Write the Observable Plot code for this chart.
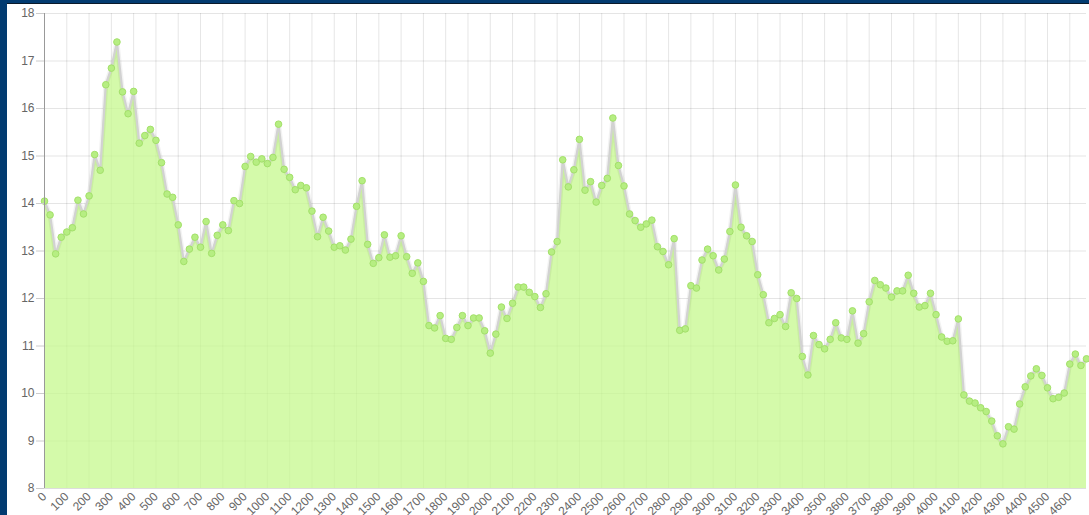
<!DOCTYPE html>
<html>
<head>
<meta charset="utf-8">
<script src="https://cdn.jsdelivr.net/npm/d3@7"></script>
<script src="https://cdn.jsdelivr.net/npm/@observablehq/plot@0.6"></script>
<style>
  html, body { margin: 0; padding: 0; background: #023b70; overflow: hidden; }
  #frame { position: absolute; left: 7px; top: 3px; width: 1082px; height: 560px; background: #fff; border-top: 1px solid #0a1a2a; box-sizing: border-box; }
  #chart { position: absolute; left: 0; top: -1px; }
</style>
</head>
<body>
<div id="frame"><div id="chart"></div></div>
<script>
// distance step between consecutive samples (x-axis units)
const step = 25;
// sampled values, one every 25 units from 0 to 4675
const values = [
  14.05, 13.76, 12.94, 13.29, 13.40, 13.49, 14.07, 13.78, 14.16, 15.03,
  14.70, 16.50, 16.85, 17.40, 16.35, 15.89, 16.36, 15.27, 15.43, 15.56,
  15.33, 14.86, 14.20, 14.13, 13.55, 12.78, 13.04, 13.29, 13.08, 13.62,
  12.95, 13.33, 13.55, 13.43, 14.06, 14.00, 14.78, 14.99, 14.87, 14.94,
  14.84, 14.97, 15.67, 14.72, 14.55, 14.29, 14.38, 14.33, 13.84, 13.30,
  13.71, 13.42, 13.08, 13.11, 13.02, 13.25, 13.94, 14.48, 13.14, 12.74,
  12.86, 13.34, 12.87, 12.90, 13.32, 12.88, 12.53, 12.75, 12.36, 11.43,
  11.38, 11.64, 11.16, 11.14, 11.39, 11.64, 11.43, 11.59, 11.59, 11.32,
  10.85, 11.25, 11.82, 11.58, 11.90, 12.24, 12.24, 12.13, 12.04, 11.81,
  12.10, 12.98, 13.20, 14.92, 14.35, 14.71, 15.35, 14.28, 14.46, 14.03,
  14.38, 14.53, 15.80, 14.80, 14.37, 13.78, 13.64, 13.50, 13.57, 13.65,
  13.09, 12.99, 12.71, 13.26, 11.33, 11.36, 12.27, 12.22, 12.81, 13.04,
  12.90, 12.60, 12.83, 13.41, 14.39, 13.50, 13.32, 13.20, 12.50, 12.08,
  11.49, 11.58, 11.66, 11.41, 12.12, 12.00, 10.78, 10.39, 11.22, 11.03,
  10.94, 11.14, 11.49, 11.17, 11.14, 11.74, 11.06, 11.26, 11.93, 12.38,
  12.29, 12.22, 12.03, 12.16, 12.16, 12.49, 12.11, 11.82, 11.85, 12.11,
  11.66, 11.19, 11.10, 11.11, 11.57, 9.97, 9.84, 9.80, 9.70, 9.62,
  9.42, 9.11, 8.94, 9.30, 9.25, 9.78, 10.14, 10.37, 10.52, 10.38,
  10.12, 9.89, 9.92, 10.01, 10.62, 10.83, 10.59, 10.73
];
const xTicks = [0, 100, 200, 300, 400, 500, 600, 700, 800, 900, 1000, 1100, 1200, 1300, 1400, 1500,
  1600, 1700, 1800, 1900, 2000, 2100, 2200, 2300, 2400, 2500, 2600, 2700, 2800, 2900, 3000, 3100,
  3200, 3300, 3400, 3500, 3600, 3700, 3800, 3900, 4000, 4100, 4200, 4300, 4400, 4500, 4600];
const yTicks = [8, 9, 10, 11, 12, 13, 14, 15, 16, 17, 18];

const data = values.map((v, i) => ({x: i * step, v}));
const xMax = (values.length - 1) * step;

const chart = Plot.plot({
  width: 1082,
  height: 560,
  marginLeft: 37,
  marginRight: 3,
  marginTop: 10,
  marginBottom: 75,
  style: {fontFamily: "'Liberation Sans', Arial, sans-serif", fontSize: "12px", color: "#666", background: "transparent", overflow: "visible"},
  x: {type: "linear", domain: [0, xMax], label: null},
  y: {domain: [8, 18], label: null},
  marks: [
    Plot.gridX(xTicks, {stroke: "#000", strokeOpacity: 0.1, strokeWidth: 1}),
    Plot.gridY(yTicks, {stroke: "#000", strokeOpacity: 0.1, strokeWidth: 1}),
    Plot.areaY(data, {x: "x", y1: 8, y2: "v", fill: "rgb(198,248,142)", fillOpacity: 0.75}),
    Plot.lineY(data, {x: "x", y: "v", stroke: "#000", strokeOpacity: 0.05, strokeWidth: 5}),
    Plot.lineY(data, {x: "x", y: "v", stroke: "#d2d2d2", strokeWidth: 2.2}),
    Plot.dot(data, {x: "x", y: "v", r: 3.3, fill: "#b6ee82", stroke: "#a3e06a", strokeWidth: 1}),
    Plot.ruleX([0], {stroke: "#999", strokeWidth: 1}),
    Plot.ruleY([8], {stroke: "#ddd", strokeWidth: 1}),
    Plot.axisY(yTicks, {tickSize: 8, tickPadding: 2, stroke: "#ccc", fill: "#666", fontSize: 12, tickFormat: d => String(d)}),
    Plot.axisX(xTicks, {tickSize: 0, tickPadding: 6, tickRotate: -45, fill: "#666", fontSize: 12, tickFormat: d => String(d)})
  ]
});
document.getElementById("chart").appendChild(chart);
</script>
</body>
</html>
